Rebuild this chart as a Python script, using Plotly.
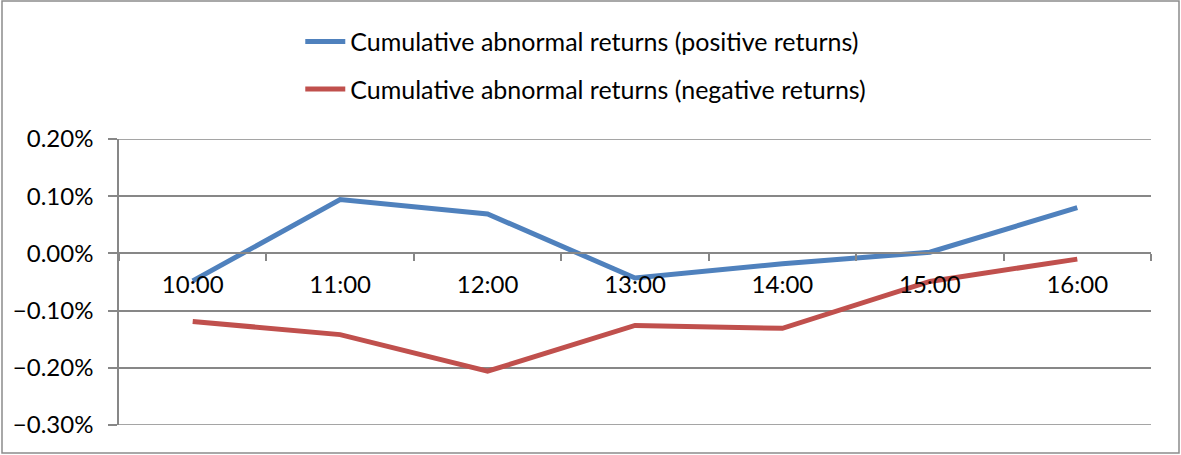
import plotly.graph_objects as go

categories = ["10:00", "11:00", "12:00", "13:00", "14:00", "15:00", "16:00"]
positive_returns = [-0.00048, 0.00094, 0.00069, -0.00043, -0.00018, 0.00002, 0.00080]
negative_returns = [-0.00119, -0.00142, -0.00206, -0.00126, -0.00131, -0.00049, -0.00010]
series_names = ["Cumulative abnormal returns (positive returns)",
                "Cumulative abnormal returns (negative returns)"]
y_ticks = [0.002, 0.001, 0.0, -0.001, -0.002, -0.003]

FONT = "Lato"
GRID = "#878787"

fig = go.Figure()
fig.add_trace(go.Scatter(x=categories, y=positive_returns, mode="lines", name=series_names[0],
                         line=dict(color="#4F81BD", width=5), legendgroup="a"))
fig.add_trace(go.Scatter(x=categories, y=negative_returns, mode="lines", name=series_names[1],
                         line=dict(color="#C0504D", width=5), legendgroup="b"))

fig.update_layout(
    width=1181, height=455,
    margin=dict(l=119, r=30, t=139, b=30, autoexpand=False),
    paper_bgcolor="white", plot_bgcolor="white",
    font=dict(family=FONT, size=24, color="black"),
    showlegend=True,
    legend=dict(orientation="v", x=0.496, xanchor="center", xref="container",
                y=0.959, yanchor="top", yref="container",
                font=dict(family=FONT, size=25, color="black"),
                tracegroupgap=12, itemwidth=40,
                bgcolor="rgba(0,0,0,0)"),
    xaxis=dict(type="category", range=[-0.5, 6.5], anchor="free", position=0.6,
               showline=True, linecolor=GRID, linewidth=1.5,
               ticks="outside", ticklen=7, tickcolor=GRID, tickwidth=1.5,
               tickson="boundaries", showgrid=False, zeroline=False,
               ticklabelstandoff=10, tickangle=0,
               tickfont=dict(family=FONT, size=24, color="black")),
    yaxis=dict(range=[-0.003, 0.002], tickvals=y_ticks, tickformat=".2%",
               showline=True, linecolor=GRID, linewidth=1.5,
               ticks="outside", ticklen=9, tickcolor=GRID, tickwidth=1.5,
               showgrid=True, gridcolor=GRID, gridwidth=1.5, zeroline=False,
               ticklabelstandoff=10,
               tickfont=dict(family=FONT, size=24, color="black")),
)

# top and bottom gridlines (at the range edges)
for yv in (max(y_ticks), min(y_ticks)):
    fig.add_hline(y=yv, line=dict(color=GRID, width=1.5), layer="below")

# chart-area border
fig.add_shape(type="rect", xref="paper", yref="paper",
              x0=(2 - 119) / 1032, x1=(1179 - 119) / 1032,
              y0=(425 - 453) / 286, y1=(425 - 1) / 286,
              line=dict(color="#8C8C8C", width=1.5), fillcolor="rgba(0,0,0,0)", layer="below")

fig.write_html("out.html", config={"displayModeBar": False},
               post_script="document.body.style.margin='0';")
